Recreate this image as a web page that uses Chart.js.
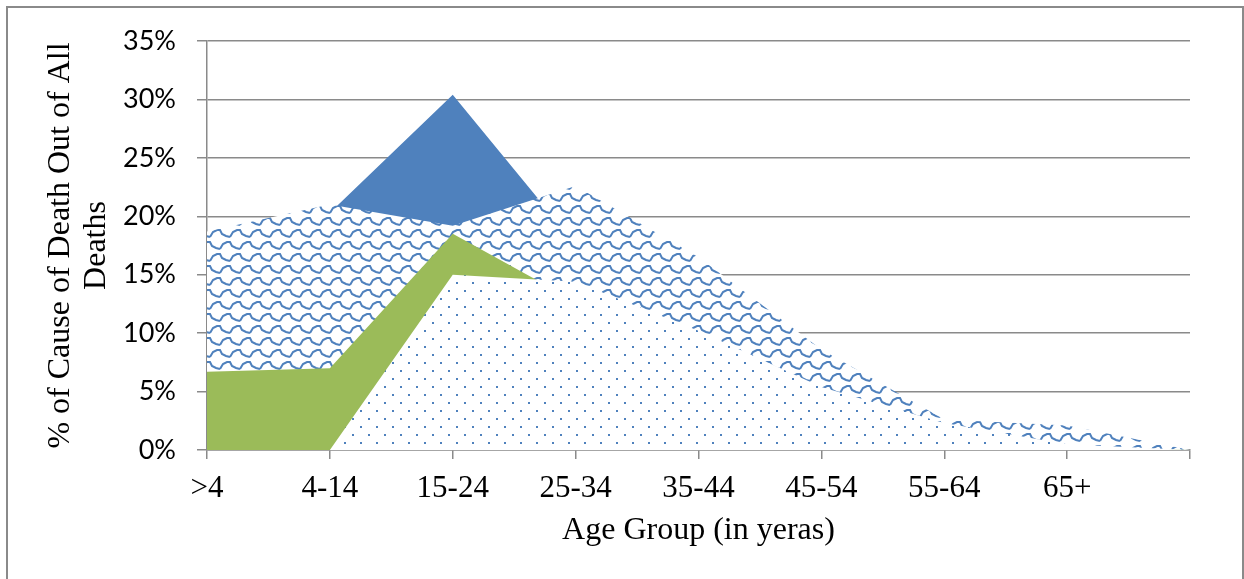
<!DOCTYPE html>
<html><head><meta charset="utf-8">
<script src="https://cdn.jsdelivr.net/npm/chart.js@4.4.1/dist/chart.umd.min.js"></script>
<style>
html,body{margin:0;padding:0;background:#fff;}
#wrap{position:relative;width:1244px;height:579px;overflow:hidden;background:#fff;}
#frame{position:absolute;left:6px;top:6px;width:1238px;height:640px;border:2px solid #8a8a8a;box-sizing:border-box;}
canvas{position:absolute;left:0;top:0;}
</style></head><body>
<div id="wrap"><div id="frame"></div><canvas id="c" width="1244" height="579"></canvas></div>
<script>
// Categories (last tick has no label)
const categories = ['>4','4-14','15-24','25-34','35-44','45-54','55-64','65+',''];
// Series values in percent (back to front drawing order: solid blue, wave, green, dotted)
const solidBlueSeries = [15.0, 20.3, 30.4, 17.6, 12.0, 6.0, 2.0, 1.0, 0];
const waveSeries      = [18.7, 21.0, 19.2, 22.6, 16.5, 8.6, 2.6, 2.1, 0];
const greenSeries     = [6.7, 7.0, 18.5, 12.7, 7.0, 3.0, 1.0, 0.3, 0];
const dottedSeries    = [0, 0, 15.0, 14.4, 10.2, 5.4, 2.3, 0.5, 0];
// Y tick values
const yTicks = [0, 5, 10, 15, 20, 25, 30, 35];
const yTitle = ['% of Cause of Death Out of All', 'Deaths'];
const xTitle = 'Age Group (in yeras)';

const BLUE = '#4F81BD', GREEN = '#9BBB59', AXIS = '#8a8a8a';

function makeDotPattern(ctx){
  const c = document.createElement('canvas'); c.width = 16; c.height = 16;
  const g = c.getContext('2d');
  g.fillStyle = '#fff'; g.fillRect(0,0,16,16);
  g.fillStyle = BLUE;
  g.fillRect(0,2,2,2);
  g.fillRect(8,10,2,2);
  return ctx.createPattern(c, 'repeat');
}
function makeWavePattern(ctx){
  const W = 20, H = 24;
  const c = document.createElement('canvas'); c.width = W; c.height = H;
  const g = c.getContext('2d');
  g.fillStyle = '#fff'; g.fillRect(0,0,W,H);
  g.strokeStyle = BLUE; g.lineWidth = 2; g.lineCap = 'butt'; g.lineJoin = 'miter';
  function scale(x0, y0){
    g.beginPath();
    g.moveTo(x0, y0 + 9);
    g.lineTo(x0 + 3, y0 + 4);
    g.lineTo(x0 + 7, y0 + 2);
    g.lineTo(x0 + 10, y0 + 2);
    g.lineTo(x0 + 12, y0 + 6);
    g.lineTo(x0 + 16, y0 + 8);
    g.lineTo(x0 + 20, y0 + 9);
    g.stroke();
  }
  for (const dx of [-20, 0, 20]) {
    for (const dy of [-H, 0, H]) {
      scale(dx, dy);
      scale(dx + 10, dy + 12);
    }
  }
  return ctx.createPattern(c, 'repeat');
}

const canvas = document.getElementById('c');
const ctx = canvas.getContext('2d');
const dots = makeDotPattern(ctx);
const waves = makeWavePattern(ctx);

function ds(data, bg){
  return {data, backgroundColor: bg, borderColor: 'transparent', borderWidth: 0,
    fill: 'origin', pointRadius: 0, pointHoverRadius: 0, tension: 0};
}

new Chart(ctx, {
  type: 'line',
  data: {
    labels: categories,
    // first dataset is drawn on top
    datasets: [ds(dottedSeries, dots), ds(greenSeries, GREEN), ds(waveSeries, waves), ds(solidBlueSeries, BLUE)]
  },
  options: {
    responsive: false, animation: false, devicePixelRatio: 1,
    events: [],
    layout: {autoPadding: false, padding: {left: 0, right: 54, top: 41, bottom: 0}},
    plugins: {legend: {display: false}, tooltip: {enabled: false}},
    scales: {
      x: {
        type: 'category', offset: false,
        grid: {display: true, drawOnChartArea: false, drawTicks: true, tickLength: 9, color: AXIS, lineWidth: 1.5},
        border: {display: true, color: AXIS, width: 1.5},
        ticks: {autoSkip: false, maxRotation: 0, minRotation: 0, padding: 11, color: '#000',
          font: {family: 'Liberation Serif', size: 31}},
        title: {display: true, text: xTitle, color: '#000', font: {family: 'Liberation Serif', size: 32},
          padding: {top: 0, bottom: 29}},
        afterFit: s => { s.height = 129; }
      },
      y: {
        min: 0, max: 35,
        afterBuildTicks: s => { s.ticks = yTicks.map(v => ({value: v})); },
        grid: {color: AXIS, lineWidth: 1.5, tickLength: 10, drawTicks: true},
        border: {display: true, color: AXIS, width: 1.5},
        ticks: {padding: 21, color: '#000', font: {family: 'Lato', size: 27}, callback: v => v + '%'},
        title: {display: true, text: yTitle, color: '#000', font: {family: 'Liberation Serif', size: 32, lineHeight: '36px'},
          padding: {top: 43, bottom: 0}},
        afterFit: s => { s.width = 207; }
      }
    }
  }
});
</script>
</body></html>
